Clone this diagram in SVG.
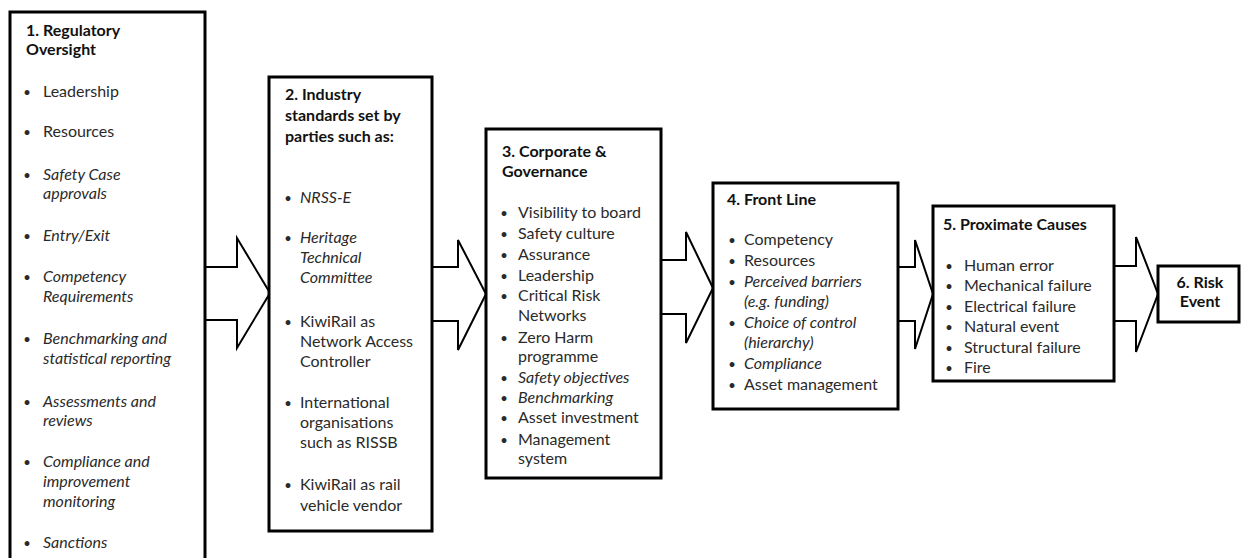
<svg xmlns="http://www.w3.org/2000/svg" width="1241" height="558" viewBox="0 0 1241 558">
<style>
.box{fill:#fff;stroke:#000;stroke-width:3}
.arr{fill:#fff;stroke:#000;stroke-width:2;stroke-linejoin:miter}
text{font-family:Lato,"Open Sans","Liberation Sans",sans-serif;font-size:16px;fill:#2a2a2a}
.t{font-weight:bold;fill:#111}
.i{font-style:italic}
.b{font-size:13px;text-anchor:middle}
</style>
<rect x="0" y="0" width="1241" height="558" fill="#fff"/>
<g id="connectors">
<polygon class="arr" points="205,267 237,267 237,238 270,293 237,348 237,320 205,320"/>
<polygon class="arr" points="432,267 458,267 458,240 486,294 458,350 458,321 432,321"/>
<polygon class="arr" points="661,260 686,260 686,232 713,288 686,343 686,314 661,314"/>
<polygon class="arr" points="898,267 915,267 915,240 933,294 915,349 915,321 898,321"/>
<polygon class="arr" points="1114,266 1136,266 1136,237 1158,294 1136,352 1136,321 1114,321"/>
</g>
<g id="node1">
<rect class="box" x="10" y="12" width="195" height="570"/>
<text class="t" x="26" y="36">1. Regulatory</text>
<text class="t" x="26" y="55">Oversight</text>
<text class="b" x="27" y="97">•</text><text x="43" y="97">Leadership</text>
<text class="b" x="27" y="137">•</text><text x="43" y="137">Resources</text>
<text class="b" x="27" y="180">•</text><text class="i" x="43" y="180">Safety Case</text><text class="i" x="43" y="199">approvals</text>
<text class="b" x="27" y="241">•</text><text class="i" x="43" y="241">Entry/Exit</text>
<text class="b" x="27" y="282">•</text><text class="i" x="43" y="282">Competency</text><text class="i" x="43" y="302">Requirements</text>
<text class="b" x="27" y="344">•</text><text class="i" x="43" y="344">Benchmarking and</text><text class="i" x="43" y="364">statistical reporting</text>
<text class="b" x="27" y="407">•</text><text class="i" x="43" y="407">Assessments and</text><text class="i" x="43" y="426">reviews</text>
<text class="b" x="27" y="467">•</text><text class="i" x="43" y="467">Compliance and</text><text class="i" x="43" y="487">improvement</text><text class="i" x="43" y="507">monitoring</text>
<text class="b" x="27" y="548">•</text><text class="i" x="43" y="548">Sanctions</text>
</g>
<g id="node2">
<rect class="box" x="269" y="77" width="163" height="454"/>
<text class="t" x="285" y="100">2. Industry</text>
<text class="t" x="285" y="121">standards set by</text>
<text class="t" x="285" y="142">parties such as:</text>
<text class="b" x="288" y="203">•</text><text class="i" x="300" y="203">NRSS-E</text>
<text class="b" x="288" y="243">•</text><text class="i" x="300" y="243">Heritage</text><text class="i" x="300" y="263">Technical</text><text class="i" x="300" y="283">Committee</text>
<text class="b" x="288" y="327">•</text><text x="300" y="327">KiwiRail as</text><text x="300" y="347">Network Access</text><text x="300" y="367">Controller</text>
<text class="b" x="288" y="408">•</text><text x="300" y="408">International</text><text x="300" y="428">organisations</text><text x="300" y="448">such as RISSB</text>
<text class="b" x="288" y="490">•</text><text x="300" y="490">KiwiRail as rail</text><text x="300" y="511">vehicle vendor</text>
</g>
<g id="node3">
<rect class="box" x="486" y="129" width="175" height="349"/>
<text class="t" x="502" y="157">3. Corporate &amp;</text>
<text class="t" x="502" y="177">Governance</text>
<text class="b" x="504" y="218">•</text><text x="518" y="218">Visibility to board</text>
<text class="b" x="504" y="239">•</text><text x="518" y="239">Safety culture</text>
<text class="b" x="504" y="260">•</text><text x="518" y="260">Assurance</text>
<text class="b" x="504" y="281">•</text><text x="518" y="281">Leadership</text>
<text class="b" x="504" y="301">•</text><text x="518" y="301">Critical Risk</text><text x="518" y="321">Networks</text>
<text class="b" x="504" y="343">•</text><text x="518" y="343">Zero Harm</text><text x="518" y="362">programme</text>
<text class="b" x="504" y="383">•</text><text class="i" x="518" y="383">Safety objectives</text>
<text class="b" x="504" y="403">•</text><text class="i" x="518" y="403">Benchmarking</text>
<text class="b" x="504" y="423">•</text><text x="518" y="423">Asset investment</text>
<text class="b" x="504" y="445">•</text><text x="518" y="445">Management</text><text x="518" y="464">system</text>
</g>
<g id="node4">
<rect class="box" x="713" y="183" width="185" height="226"/>
<text class="t" x="727" y="205">4. Front Line</text>
<text class="b" x="732" y="245">•</text><text x="744" y="245">Competency</text>
<text class="b" x="732" y="266">•</text><text x="744" y="266">Resources</text>
<text class="b" x="732" y="287">•</text><text class="i" x="744" y="287">Perceived barriers</text><text class="i" x="744" y="307">(e.g. funding)</text>
<text class="b" x="732" y="328">•</text><text class="i" x="744" y="328">Choice of control</text><text class="i" x="744" y="348">(hierarchy)</text>
<text class="b" x="732" y="369">•</text><text class="i" x="744" y="369">Compliance</text>
<text class="b" x="732" y="390">•</text><text x="744" y="390">Asset management</text>
</g>
<g id="node5">
<rect class="box" x="933" y="206" width="181" height="175"/>
<text class="t" x="943" y="230">5. Proximate Causes</text>
<text class="b" x="949" y="271">•</text><text x="964" y="271">Human error</text>
<text class="b" x="949" y="291">•</text><text x="964" y="291">Mechanical failure</text>
<text class="b" x="949" y="312">•</text><text x="964" y="312">Electrical failure</text>
<text class="b" x="949" y="332">•</text><text x="964" y="332">Natural event</text>
<text class="b" x="949" y="353">•</text><text x="964" y="353">Structural failure</text>
<text class="b" x="949" y="373">•</text><text x="964" y="373">Fire</text>
</g>
<g id="node6">
<rect class="box" x="1158" y="266" width="81" height="56"/>
<text class="t" x="1200" y="288" text-anchor="middle">6. Risk</text>
<text class="t" x="1200" y="307" text-anchor="middle">Event</text>
</g>
</svg>
